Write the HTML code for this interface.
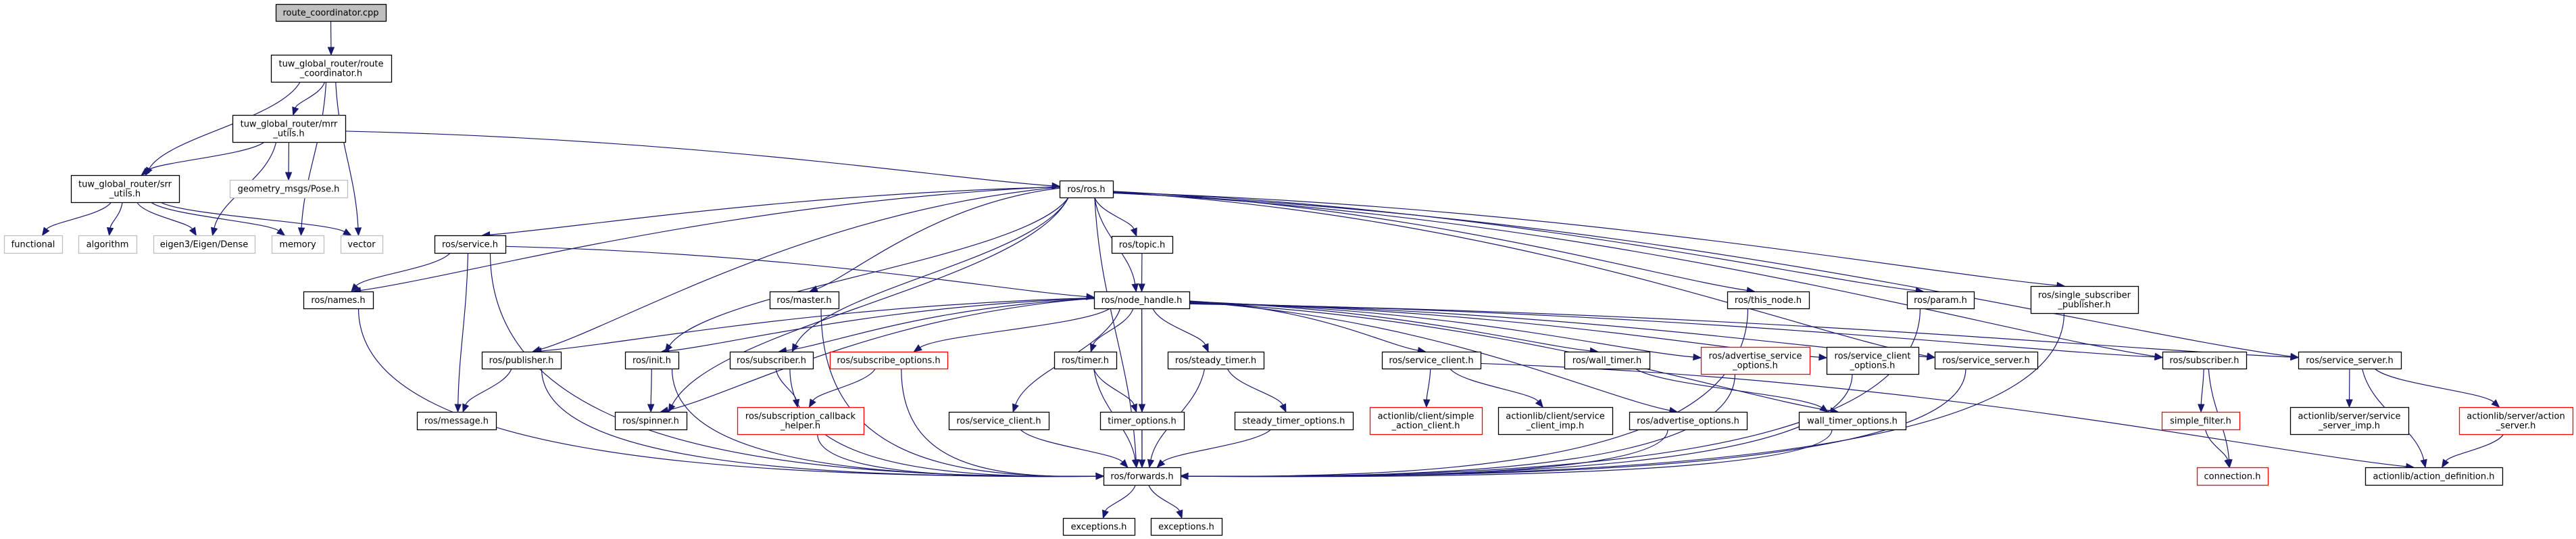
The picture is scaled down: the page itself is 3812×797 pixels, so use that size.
<!DOCTYPE html>
<html><head><meta charset="utf-8"><style>
html,body{margin:0;padding:0;background:#fff;}
svg{display:block}
text{font-family:"DejaVu Sans","Liberation Sans",sans-serif;font-size:13px;fill:#000;}
</style></head><body>
<svg id="g" width="3812" height="797" viewBox="0 0 3812 797" xmlns="http://www.w3.org/2000/svg">
<g id="edges" fill="none" stroke="#191970" stroke-width="1.2"></g>
<g id="heads" fill="#191970" stroke="#191970" stroke-width="1"></g>
<g id="nodes"></g>
</svg>
<script>
var N={
A:[408,571,6,31,"route_coordinator.cpp","g"],
B:[401,579,81,121,"tuw_global_router/route|_coordinator.h"],
C:[344,511,170,210,"tuw_global_router/mrr|_utils.h"],
D:[105,265,259,299,"tuw_global_router/srr|_utils.h"],
E:[340,514,266,292,"geometry_msgs/Pose.h","x"],
F:[6,92,348,374,"functional","x"],
G:[116,202,348,374,"algorithm","x"],
H:[227,377,348,374,"eigen3/Eigen/Dense","x"],
I:[402,479,348,374,"memory","x"],
J:[504,566,348,374,"vector","x"],
K:[643,748,348,374,"ros/service.h"],
L:[449,552,431,456,"ros/names.h"],
M:[713,830,520,545,"ros/publisher.h"],
Nm:[617,734,609,635,"ros/message.h"],
O:[1568,1647,267,292,"ros/ros.h"],
P:[1645,1735,349,374,"ros/topic.h"],
Q:[1139,1241,431,456,"ros/master.h"],
R:[1619,1760,431,456,"ros/node_handle.h"],
S:[925,1004,520,545,"ros/init.h"],
T:[1080,1203,520,545,"ros/subscriber.h"],
U:[1228,1402,520,545,"ros/subscribe_options.h","r"],
V:[1560,1652,520,545,"ros/timer.h"],
W:[1728,1870,520,545,"ros/steady_timer.h"],
X:[910,1016,609,635,"ros/spinner.h"],
Y:[1091,1278,602,642,"ros/subscription_callback|_helper.h","r"],
Z:[1404,1552,609,635,"ros/service_client.h"],
AA:[1628,1752,609,635,"timer_options.h"],
AB:[1827,2002,609,635,"steady_timer_options.h"],
AC:[1633,1747,691,717,"ros/forwards.h"],
AD:[1573,1679,766,791,"exceptions.h"],
AE:[1703,1808,766,791,"exceptions.h"],
AF:[2556,2677,431,456,"ros/this_node.h"],
AG:[2822,2921,431,456,"ros/param.h"],
AH:[3005,3164,423,463,"ros/single_subscriber|_publisher.h"],
AI:[2045,2191,520,545,"ros/service_client.h"],
AJ:[2315,2441,520,545,"ros/wall_timer.h"],
AK:[2517,2678,513,553,"ros/advertise_service|_options.h","r"],
AL:[2703,2839,513,553,"ros/service_client|_options.h"],
AM:[2863,3015,520,545,"ros/service_server.h"],
AN:[3200,3324,520,545,"ros/subscriber.h"],
AO:[3401,3553,520,545,"ros/service_server.h"],
AP:[2027,2193,602,642,"actionlib/client/simple|_action_client.h","r"],
AQ:[2217,2386,602,642,"actionlib/client/service|_client_imp.h"],
AR:[2411,2585,609,635,"ros/advertise_options.h"],
AS:[2662,2820,609,635,"wall_timer_options.h"],
AT:[3199,3314,609,635,"simple_filter.h","r"],
AU:[3389,3564,602,642,"actionlib/server/service|_server_imp.h"],
AV:[3639,3807,602,642,"actionlib/server/action|_server.h","r"],
AW:[3251,3356,691,717,"connection.h","r"],
AX:[3500,3703,691,717,"actionlib/action_definition.h"]
};
var E=[
"A B","B D","B C","B I","B J","C D","C H","C E","C O","D F","D G","D H","D I","D J",
"O K","O L","O M","O Q","O R","O S","O T","O P","O X","O AF","O AG","O AH","O AN","O AO","O AM","O AC",
"K L","K Nm","K AC","K R","L AC","M Nm","M AC","Q AC","S X","S AC","T Y","T AC","U Y","U AC","Y AC",
"V AA","V AC","W AB","W AC","Z AC","AA AC","AB AC","AC AD","AC AE","P R",
"R S","R T","R U","R V","R W","R Z","R AA","R AC","R M","R X","R AI","R AJ","R AK","R AL","R AM","R AN","R AO","R AR","R AS",
"AI AP","AI AQ","AI AX","AJ AS","AF AC","AG AC","AH AC","AK AC","AL AC","AM AC","AR AC","AS AC",
"AN AT","AN AW","AT AW","AO AU","AO AV","AO AX","AV AX"
];
var ns="http://www.w3.org/2000/svg";
function el(t,a,p){var e=document.createElementNS(ns,t);for(var k in a)e.setAttribute(k,a[k]);p.appendChild(e);return e;}
var eg=document.getElementById("edges"),hg=document.getElementById("heads"),ng=document.getElementById("nodes");
E.forEach(function(s){
 var p=s.split(" "),a=N[p[0]],b=N[p[1]];
 var acx=(a[0]+a[1])/2,bcx=(b[0]+b[1])/2;
 var sx,sy,tx,ty,c1x,c1y,c2x,c2y,dx=bcx-acx,dy=b[2]-a[3];
 if(p[1]=="AC"&&Math.abs(dx)>320){
   sx=acx+Math.max(-30,Math.min(30,dx*0.05));sy=a[3];
   if(dx>0){tx=b[0];}else{tx=b[1];}ty=(b[2]+b[3])/2;
   c1x=sx;c1y=sy+(ty-sy)*0.85;c2x=tx+(dx>0?-Math.abs(dx)*0.5:Math.abs(dx)*0.5);c2y=ty+4;
 } else if(Math.abs(dx)>Math.max(380,3*dy)&&dy>0){
   sx=dx>0?a[1]:a[0];sy=(a[2]+a[3])/2+Math.max(-6,Math.min(6,dx/300));
   tx=bcx-dx*0.02;ty=b[2];
   if(["AK","AL","AM","AN","AO","O","R"].indexOf(p[1])>=0){tx=dx>0?b[0]:b[1];ty=(b[2]+b[3])/2-4;}
   c1x=sx+dx*0.45;c1y=sy+(ty-sy)*0.15;c2x=tx-dx*0.15;c2y=ty-(ty-sy)*0.15;
 } else {
   sx=acx+Math.max(-(a[1]-a[0])/3,Math.min((a[1]-a[0])/3,dx*0.15));sy=a[3];
   tx=bcx-Math.max(-(b[1]-b[0])/4,Math.min((b[1]-b[0])/4,dx*0.1));ty=b[2];
   var h=ty-sy;c1x=sx+dx*0.1;c1y=sy+h*0.4;c2x=tx-dx*0.1;c2y=ty-h*0.4;
 }
 var vx=tx-c2x,vy=ty-c2y,l=Math.sqrt(vx*vx+vy*vy)||1;vx/=l;vy/=l;
 var L=11,W=4.5,bx=tx-vx*L,by=ty-vy*L;
 el("path",{d:"M"+sx+","+sy+" C"+c1x+","+c1y+" "+c2x+","+c2y+" "+bx+","+by},eg);
 el("polygon",{points:tx+","+ty+" "+(bx-vy*W)+","+(by+vx*W)+" "+(bx+vy*W)+","+(by-vx*W)},hg);
});
for(var k in N){var n=N[k];var st=n[5]||"";
 var stroke=st=="x"?"#bfbfbf":(st=="r"?"#ff0000":"#000");
 el("rect",{x:n[0]+0.5,y:n[2]+0.5,width:n[1]-n[0],height:n[3]-n[2],fill:st=="g"?"#bfbfbf":"#fff",stroke:stroke,"stroke-width":1.3},ng);
 var lines=n[4].split("|"),cx=(n[0]+n[1])/2,cy=(n[2]+n[3])/2;
 lines.forEach(function(t,i){var y=cy+4.5+(i-(lines.length-1)/2)*14;
  var tt=el("text",{x:cx,y:y,"text-anchor":"middle"},ng);tt.textContent=t;});
}
</script>
</body></html>
